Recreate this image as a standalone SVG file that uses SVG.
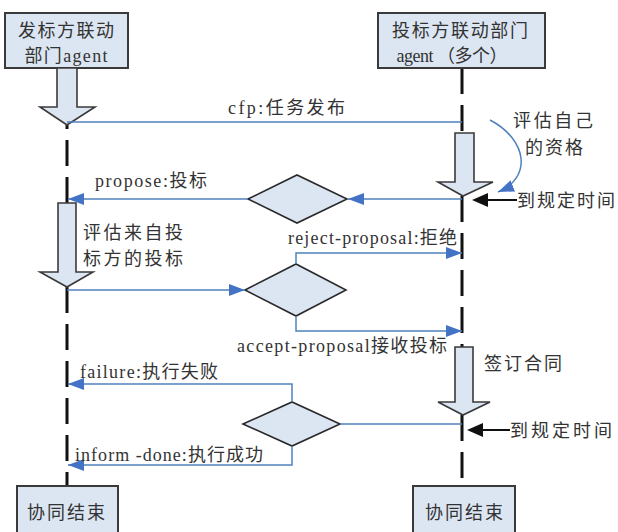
<svg xmlns="http://www.w3.org/2000/svg" width="618" height="532" viewBox="0 0 618 532">
<style>
.box{fill:#dce6f2;stroke:#3a3a3a;stroke-width:2}
.blk{fill:#dce6f2;stroke:#3a3a3a;stroke-width:1.6}
.dia{fill:#dce6f2;stroke:#2a2a2a;stroke-width:1.6}
.life{stroke:#111;stroke-width:3;stroke-dasharray:26 11;fill:none}
.msg{stroke:#4f81bd;stroke-width:1.5;fill:none}
.t{font-family:"Liberation Serif","Noto Sans CJK SC",serif;font-size:18px;fill:#333}
.c{text-anchor:middle}
</style>
<defs>
<marker id="bb" viewBox="0 0 16 12" refX="16" refY="6" markerWidth="16" markerHeight="12" markerUnits="userSpaceOnUse" orient="auto"><path d="M0,0 L16,6 L0,12 z" fill="#4472c4"/></marker>
</defs>
<g id="lifelines">
<line class="life" x1="67" y1="203" x2="67" y2="125" style="stroke-dasharray:26 11"/>
<line class="life" x1="67" y1="287" x2="67" y2="486"/>
<line class="life" x1="462" y1="68" x2="462" y2="133"/>
<line class="life" x1="462" y1="196" x2="462" y2="347"/>
<line class="life" x1="462" y1="415" x2="462" y2="486"/>
</g>
<g id="agent-left">
<rect class="box" x="5" y="13" width="123" height="55"/>
<text class="t c" x="66" y="37" textLength="96">发标方联动</text>
<text class="t c" x="66" y="62" textLength="83">部门agent</text>
</g>
<g id="agent-right">
<rect class="box" x="378" y="13" width="167" height="55"/>
<text class="t c" x="460" y="37" textLength="136">投标方联动部门</text>
<text class="t c" x="452" y="62" textLength="111">agent （多个）</text>
</g>
<g id="act-left-1"><polygon class="blk" points="57,68 77,68 77,107 95,107 67,125 40,107 57,107"/></g>
<g id="act-left-2"><polygon class="blk" points="58,203 76,203 76,272 93,272 67,287 40,272 58,272"/>
<text class="t" x="83" y="239" textLength="100">评估来自投</text>
<text class="t" x="83" y="265" textLength="100">标方的投标</text></g>
<g id="act-right-1"><polygon class="blk" points="455,133 474,133 474,182 493,182 463,196 438,182 455,182"/>
<text class="t" x="513" y="127" textLength="80">评估自己</text>
<text class="t" x="525" y="154" textLength="58">的资格</text></g>
<g id="act-right-2"><polygon class="blk" points="455,347 473,347 473,402 490,402 463,415 438,402 455,402"/>
<text class="t" x="484" y="370" textLength="78">签订合同</text></g>
<g id="diamond-1"><polygon class="dia" points="248,199 297,175 347,199 297,223"/></g>
<g id="diamond-2"><polygon class="dia" points="245,290 296,264 346,290 296,316"/></g>
<g id="diamond-3"><polygon class="dia" points="243,424 292,402 340,424 292,446"/></g>
<g id="deadline-1">
<line x1="486" y1="200" x2="517" y2="200" stroke="#111" stroke-width="2"/>
<polygon points="472,200 488,193 488,207" fill="#111"/>
<text class="t" x="517" y="207" textLength="98">到规定时间</text>
</g>
<g id="deadline-2">
<line x1="481" y1="430" x2="510" y2="430" stroke="#111" stroke-width="2"/>
<polygon points="467,430 483,423 483,437" fill="#111"/>
<text class="t" x="510" y="437" textLength="102">到规定时间</text>
</g>
<g id="connectors">
<line class="msg" x1="67" y1="122" x2="462" y2="122"/>
<path class="msg" d="M490,120 C528,140 532,178 498,192" marker-end="url(#bb)"/>
<line class="msg" x1="462" y1="199" x2="348" y2="199" marker-end="url(#bb)"/>
<line class="msg" x1="248" y1="199" x2="68" y2="199" marker-end="url(#bb)"/>
<line class="msg" x1="67" y1="290" x2="245" y2="290" marker-end="url(#bb)"/>
<polyline class="msg" points="296,264 296,253 462,253" marker-end="url(#bb)"/>
<polyline class="msg" points="296,316 296,331 462,331" marker-end="url(#bb)"/>
<line class="msg" x1="340" y1="424" x2="462" y2="424"/>
<polyline class="msg" points="292,402 292,384 68,384" marker-end="url(#bb)"/>
<polyline class="msg" points="292,446 292,465 68,465" marker-end="url(#bb)"/>
</g>
<g id="labels">
<text class="t" x="228" y="114" textLength="117">cfp:任务发布</text>
<text class="t" x="95" y="187" textLength="112">propose:投标</text>
<text class="t" x="288" y="244" textLength="169">reject-proposal:拒绝</text>
<text class="t" x="237" y="352" textLength="210">accept-proposal接收投标</text>
<text class="t" x="80" y="378" textLength="138">failure:执行失败</text>
<text class="t" x="75" y="461" textLength="188">inform -done:执行成功</text>
</g>
<g id="end-left"><rect class="box" x="17" y="486" width="101" height="52"/>
<text class="t c" x="66" y="519" textLength="78">协同结束</text></g>
<g id="end-right"><rect class="box" x="413" y="486" width="102" height="52"/>
<text class="t c" x="464" y="519" textLength="78">协同结束</text></g>
</svg>
